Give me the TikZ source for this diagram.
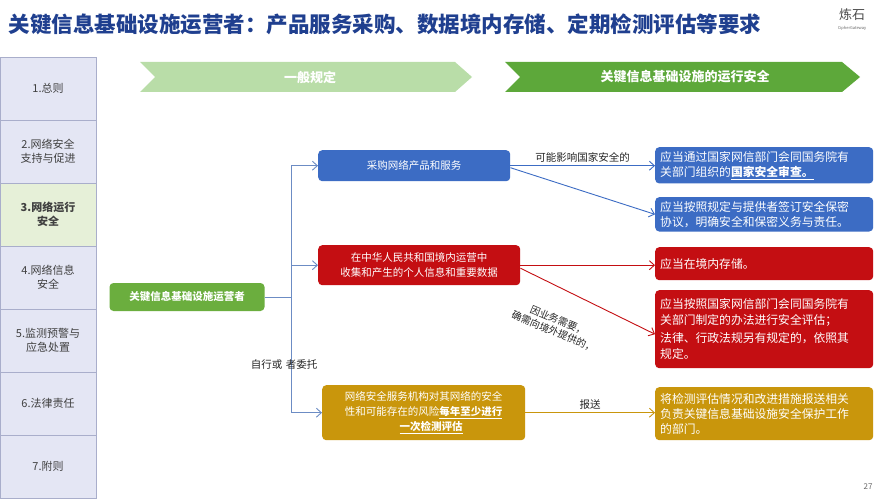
\documentclass[tikz,border=0pt]{standalone}
\usepackage{fontspec}
\setmainfont{Noto Sans CJK SC}
\usetikzlibrary{arrows.meta,shapes.arrows}
\definecolor{tblue}{HTML}{1F3F8F}
\definecolor{bblue}{HTML}{3C6CC4}
\definecolor{bred}{HTML}{C40E12}
\definecolor{bgold}{HTML}{C9960C}
\definecolor{bgreen}{HTML}{6BAE3E}
\definecolor{lgreen}{HTML}{B9DDA8}
\definecolor{dgreen}{HTML}{5DA83A}
\definecolor{side}{HTML}{E4E6F4}
\definecolor{sideh}{HTML}{E6F0D8}
\definecolor{sidel}{HTML}{A9AECB}
\definecolor{lineb}{HTML}{6C8CC4}
\begin{document}
\begin{tikzpicture}[x=1pt,y=-1pt,
 side/.style={draw=sidel,fill=side,minimum width=96pt,minimum height=63pt,inner sep=0pt,align=center,font=\fontsize{11}{14}\selectfont,text=black!75},
 box/.style={rounded corners=4pt,text=white,align=left,inner sep=4pt,font=\fontsize{10.5}{15}\selectfont,anchor=north west},
 rbox/.style={box,text width=208pt,inner xsep=5pt},
 conn/.style={line width=0.9pt,-{Straight Barb[length=5pt,width=9pt]}},
 lbl/.style={font=\fontsize{10.5}{13}\selectfont,text=black!85}]
\useasboundingbox (0,0) rectangle (888,500);
\fill[white] (0,0) rectangle (888,500);
% title
\node[anchor=west,text=tblue,font=\bfseries\fontsize{21.5}{24}\selectfont] (title) at (5,24) {关键信息基础设施运营者：产品服务采购、数据境内存储、定期检测评估等要求};
\node[font=\fontsize{13}{14}\selectfont,text=black!70] (logo) at (852,15) {炼石};
\node[font=\fontsize{4}{5}\selectfont,text=black!60] (logo2) at (852,28) {CipherGateway};
\node[font=\fontsize{8}{9}\selectfont,text=black!60] (pg) at (868,487) {27};
% sidebar
\foreach \i/\t in {1/{1.总则},2/{2.网络安全\\支持与促进},4/{4.网络信息\\安全},5/{5.监测预警与\\应急处置},6/{6.法律责任},7/{7.附则}}
  \node[side] (s\i) at (48,{57+63*(\i-1)+31.5}) {\t};
\node[side,fill=sideh,font=\bfseries\fontsize{11}{14}\selectfont] (s3) at (48,{57+126+31.5}) {3.网络运行\\安全};
% banners
\fill[lgreen] (140,62) -- (455,62) -- (472,77) -- (455,92) -- (140,92) -- (155,77) -- cycle;
\node[text=white,font=\bfseries\fontsize{13}{14}\selectfont] (b1) at (310,77) {一般规定};
\fill[dgreen] (505,62) -- (842,62) -- (860,77) -- (842,92) -- (505,92) -- (520,77) -- cycle;
\node[text=white,font=\bfseries\fontsize{13}{14}\selectfont] (b2) at (685,77) {关键信息基础设施的运行安全};
% root
\node[box,fill=bgreen,anchor=center,minimum width=155pt,minimum height=28pt,align=center,font=\bfseries\fontsize{10.5}{13}\selectfont] (root) at (187,297) {关键信息基础设施运营者};
% middle boxes
\node[box,fill=bblue,minimum width=192pt,minimum height=31pt,align=center] (m1) at (318,150) {采购网络产品和服务};
\node[box,fill=bred,minimum width=202pt,minimum height=40pt,align=center] (m2) at (318,245) {在中华人民共和国境内运营中\\收集和产生的个人信息和重要数据};
\node[box,fill=bgold,minimum width=203pt,minimum height=55pt,align=left] (m3) at (322,385) {网络安全服务机构对其网络的安全\\性和可能存在的风险\textbf{\underline{每年至少进行}}\\\hspace*{5.2em}\textbf{\underline{一次检测评估}}};
% right boxes
\node[rbox,fill=bblue,minimum height=36pt,font=\fontsize{11.8}{15}\selectfont] (r1) at (655,147) {应当通过国家网信部门会同国务院有\\关部门组织的\textbf{\underline{国家安全审查。}}};
\node[rbox,fill=bblue,minimum height=34pt,font=\fontsize{11.8}{15}\selectfont] (r2) at (655,197) {应当按照规定与提供者签订安全保密\\协议，明确安全和保密义务与责任。};
\node[rbox,fill=bred,minimum height=33pt,font=\fontsize{11.8}{15}\selectfont] (r3) at (655,247) {应当在境内存储。};
\node[rbox,fill=bred,minimum height=78pt,font=\fontsize{11.8}{16}\selectfont] (r4) at (655,290) {应当按照国家网信部门会同国务院有\\关部门制定的办法进行安全评估；\\[2pt]法律、行政法规另有规定的，依照其\\规定。};
\node[rbox,fill=bgold,minimum height=53pt,font=\fontsize{11.8}{15}\selectfont] (r5) at (655,387) {将检测评估情况和改进措施报送相关\\负责关键信息基础设施安全保护工作\\的部门。};
% tree
\coordinate (j) at (291,297);
\draw[lineb,line width=0.9pt] (root.east) -- (j);
\draw[lineb,conn] (j) |- (m1.west);
\draw[lineb,conn] (j) |- (m2.west);
\draw[lineb,conn] (j) |- (m3.west);
\node[lbl] (zx) at (284,365) {自行或\,\,者委托};
% right arrows
\draw[conn,bblue] (m1.east) -- (m1.east -| r1.west) node[lbl,midway,above] {可能影响国家安全的};
\draw[conn,bblue] ([yshift=-2pt]m1.east) -- (r2.west);
\draw[conn,bred] (m2.east) -- (m2.east -| r3.west);
\draw[conn,bred] ([yshift=-3pt]m2.east) -- ([yshift=-5pt]r4.west);
\node[lbl,rotate=-23,align=center,font=\fontsize{10}{12}\selectfont] (why) at (556,326) {因业务需要，\\确需向境外提供的，};
\draw[conn,bgold] (m3.east) -- (m3.east -| r5.west) node[lbl,midway,above] {报送};
\end{tikzpicture}
\end{document}
